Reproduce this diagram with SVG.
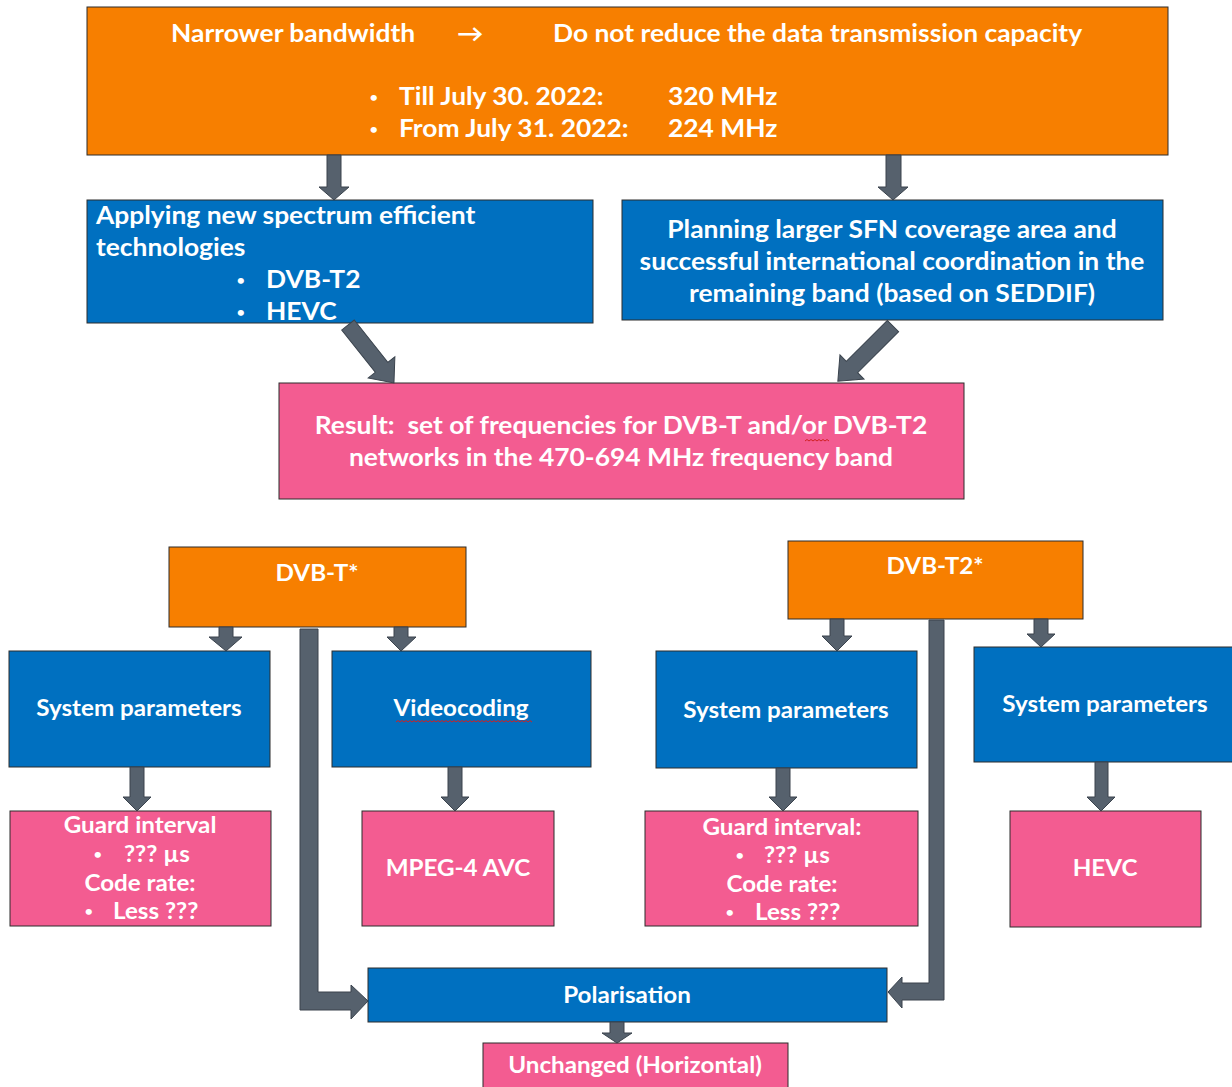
<svg xmlns="http://www.w3.org/2000/svg" width="1232" height="1087" viewBox="0 0 1232 1087">
<style>
.or{fill:#F77F00;stroke:#2d2d2d;stroke-width:1}
.bl{fill:#0070C0;stroke:#2d2d2d;stroke-width:1}
.pk{fill:#F35C91;stroke:#2d2d2d;stroke-width:1}
.ar{fill:#56616D;stroke:#3a434d;stroke-width:1}
text{font-family:Lato,"Noto Sans","Liberation Sans",sans-serif;font-weight:700;fill:#ffffff}
.t24{font-size:24px}
.t22{font-size:22px}
.bu{font-size:15px;font-weight:400}
.c{text-anchor:middle}
.wv{fill:none;stroke:#d02020;stroke-width:1}
</style>
<rect width="1232" height="1087" fill="#ffffff"/>
<g id="top">
<rect class="or" x="87" y="7" width="1081" height="148"/>
<text class="t24" transform="translate(171,42) scale(1.1,1)">Narrower bandwidth</text>
<text class="t24" transform="translate(457,42) scale(1.1,1)">→</text>
<text class="t24" transform="translate(553,42) scale(1.1,1)">Do not reduce the data transmission capacity</text>
<text class="bu" transform="translate(369,103) scale(1.1,1)">•</text>
<text class="t24" transform="translate(399,105) scale(1.1,1)">Till July 30. 2022:</text>
<text class="t24" transform="translate(668,105) scale(1.1,1)">320 MHz</text>
<text class="bu" transform="translate(369,135) scale(1.1,1)">•</text>
<text class="t24" transform="translate(399,137) scale(1.1,1)">From July 31. 2022:</text>
<text class="t24" transform="translate(668,137) scale(1.1,1)">224 MHz</text>
</g>
<g id="tech">
<rect class="bl" x="87" y="200" width="506" height="123"/>
<text class="t24" transform="translate(96,224) scale(1.1,1)">Applying new spectrum efficient</text>
<text class="t24" transform="translate(96,256) scale(1.1,1)">technologies</text>
<text class="bu" transform="translate(236,286) scale(1.1,1)">•</text>
<text class="t24" transform="translate(266,288) scale(1.1,1)">DVB-T2</text>
<text class="bu" transform="translate(236,318) scale(1.1,1)">•</text>
<text class="t24" transform="translate(266,320) scale(1.1,1)">HEVC</text>
</g>
<g id="planning">
<rect class="bl" x="622" y="200" width="541" height="120"/>
<text class="t24 c" transform="translate(892,238) scale(1.1,1)">Planning larger SFN coverage area and</text>
<text class="t24 c" transform="translate(892,270) scale(1.1,1)">successful international coordination in the</text>
<text class="t24 c" transform="translate(892,302) scale(1.1,1)">remaining band (based on SEDDIF)</text>
</g>
<g id="result">
<rect class="pk" x="279" y="383" width="685" height="116"/>
<text class="t24 c" xml:space="preserve" transform="translate(621,434) scale(1.1,1)">Result:  set of frequencies for DVB-T and/or DVB-T2</text>
<text class="t24 c" transform="translate(621,466) scale(1.1,1)">networks in the 470-694 MHz frequency band</text>
<path class="wv" d="M805 441 l2 -1.5 l2 1.5 l2 -1.5 l2 1.5 l2 -1.5 l2 1.5 l2 -1.5 l2 1.5 l2 -1.5 l2 1.5 l2 -1.5 l2 1.5"/>
</g>
<g id="dvbt">
<rect class="or" x="169" y="547" width="297" height="80"/>
<text class="t22 c" transform="translate(317,581) scale(1.1,1)">DVB-T*</text>
</g>
<g id="dvbt2">
<rect class="or" x="788" y="541" width="295" height="78"/>
<text class="t22 c" transform="translate(935,574) scale(1.1,1)">DVB-T2*</text>
</g>
<g id="sys1">
<rect class="bl" x="9" y="651" width="261" height="116"/>
<text class="t22 c" transform="translate(139,716) scale(1.1,1)">System parameters</text>
</g>
<g id="video">
<rect class="bl" x="332" y="651" width="259" height="116"/>
<text class="t22 c" transform="translate(461,716) scale(1.1,1)">Videocoding</text>
<path class="wv" d="M396 722 l2 -1.5 l2 1.5 l2 -1.5 l2 1.5 l2 -1.5 l2 1.5 l2 -1.5 l2 1.5 l2 -1.5 l2 1.5 l2 -1.5 l2 1.5 l2 -1.5 l2 1.5 l2 -1.5 l2 1.5 l2 -1.5 l2 1.5 l2 -1.5 l2 1.5 l2 -1.5 l2 1.5 l2 -1.5 l2 1.5 l2 -1.5 l2 1.5 l2 -1.5 l2 1.5 l2 -1.5 l2 1.5 l2 -1.5 l2 1.5 l2 -1.5 l2 1.5 l2 -1.5 l2 1.5 l2 -1.5 l2 1.5 l2 -1.5 l2 1.5 l2 -1.5 l2 1.5 l2 -1.5 l2 1.5 l2 -1.5 l2 1.5 l2 -1.5 l2 1.5 l2 -1.5 l2 1.5 l2 -1.5 l2 1.5 l2 -1.5 l2 1.5 l2 -1.5 l2 1.5 l2 -1.5 l2 1.5 l2 -1.5 l2 1.5 l2 -1.5 l2 1.5 l2 -1.5 l2 1.5 l2 -1.5 l2 1.5 l2 -1.5 l2 1.5"/>
</g>
<g id="sys2">
<rect class="bl" x="656" y="651" width="261" height="117"/>
<text class="t22 c" transform="translate(786,718) scale(1.1,1)">System parameters</text>
</g>
<g id="sys3">
<rect class="bl" x="974" y="647" width="262" height="115"/>
<text class="t22 c" transform="translate(1105,712) scale(1.1,1)">System parameters</text>
</g>
<g id="guard1">
<rect class="pk" x="10" y="811" width="261" height="115"/>
<text class="t22 c" transform="translate(140,833) scale(1.1,1)">Guard interval</text>
<text class="bu" transform="translate(93,860) scale(1.1,1)">•</text>
<text class="t22" transform="translate(124,862) scale(1.1,1)">??? µs</text>
<text class="t22 c" transform="translate(140,891) scale(1.1,1)">Code rate:</text>
<text class="bu" transform="translate(84,917) scale(1.1,1)">•</text>
<text class="t22" transform="translate(113,919) scale(1.1,1)">Less ???</text>
</g>
<g id="mpeg">
<rect class="pk" x="362" y="811" width="192" height="115"/>
<text class="t22 c" transform="translate(458,876) scale(1.1,1)">MPEG-4 AVC</text>
</g>
<g id="guard2">
<rect class="pk" x="645" y="811" width="273" height="115"/>
<text class="t22 c" transform="translate(782,835) scale(1.1,1)">Guard interval:</text>
<text class="bu" transform="translate(735,861) scale(1.1,1)">•</text>
<text class="t22" transform="translate(764,863) scale(1.1,1)">??? µs</text>
<text class="t22 c" transform="translate(782,892) scale(1.1,1)">Code rate:</text>
<text class="bu" transform="translate(725,918) scale(1.1,1)">•</text>
<text class="t22" transform="translate(755,920) scale(1.1,1)">Less ???</text>
</g>
<g id="hevc">
<rect class="pk" x="1010" y="811" width="191" height="116"/>
<text class="t22 c" transform="translate(1105,876) scale(1.1,1)">HEVC</text>
</g>
<g id="polar">
<rect class="bl" x="368" y="968" width="519" height="54"/>
<text class="t22 c" transform="translate(627,1003) scale(1.1,1)">Polarisation</text>
</g>
<g id="unchanged">
<rect class="pk" x="483" y="1043" width="305" height="50"/>
<text class="t22 c" transform="translate(635,1073) scale(1.1,1)">Unchanged (Horizontal)</text>
</g>
<g id="connectors">
<polygon class="ar" points="327,155 341,155 341,187 349,187 334,200 319,187 327,187"/>
<polygon class="ar" points="886,155 901,155 901,187 908,187 893,200 878,187 886,187"/>
<polygon class="ar" transform="translate(348,325) rotate(51.6)" points="0,-8 54,-8 54,-17 74,0 54,17 54,8 0,8"/>
<polygon class="ar" transform="translate(893,326) rotate(135)" points="0,-8 58,-8 58,-17 78,0 58,17 58,8 0,8"/>
<polygon class="ar" points="219,627 233,627 233,637 242,637 226,651 209,637 219,637"/>
<polygon class="ar" points="394,627 408,627 408,637 416,637 401,651 387,637 394,637"/>
<polygon class="ar" points="830,619 844,619 844,636 852,636 837,651 822,636 830,636"/>
<polygon class="ar" points="1034,619 1048,619 1048,634 1055,634 1041,647 1027,634 1034,634"/>
<polygon class="ar" points="130,767 144,767 144,797 151,797 137,811 123,797 130,797"/>
<polygon class="ar" points="448,767 462,767 462,797 469,797 455,811 441,797 448,797"/>
<polygon class="ar" points="776,768 790,768 790,797 797,797 783,811 769,797 776,797"/>
<polygon class="ar" points="1095,762 1108,762 1108,797 1115,797 1101,811 1087,797 1095,797"/>
<polygon class="ar" points="610,1022 624,1022 624,1033 632,1033 617,1043 602,1033 610,1033"/>
<polygon class="ar" points="300,629 318,629 318,992 351,992 351,985 368,1001 351,1019 351,1010 300,1010"/>
<polygon class="ar" points="929,620 944,620 944,1000 902,1000 902,1008 888,992 902,977 902,983 929,983"/>
</g>
</svg>
